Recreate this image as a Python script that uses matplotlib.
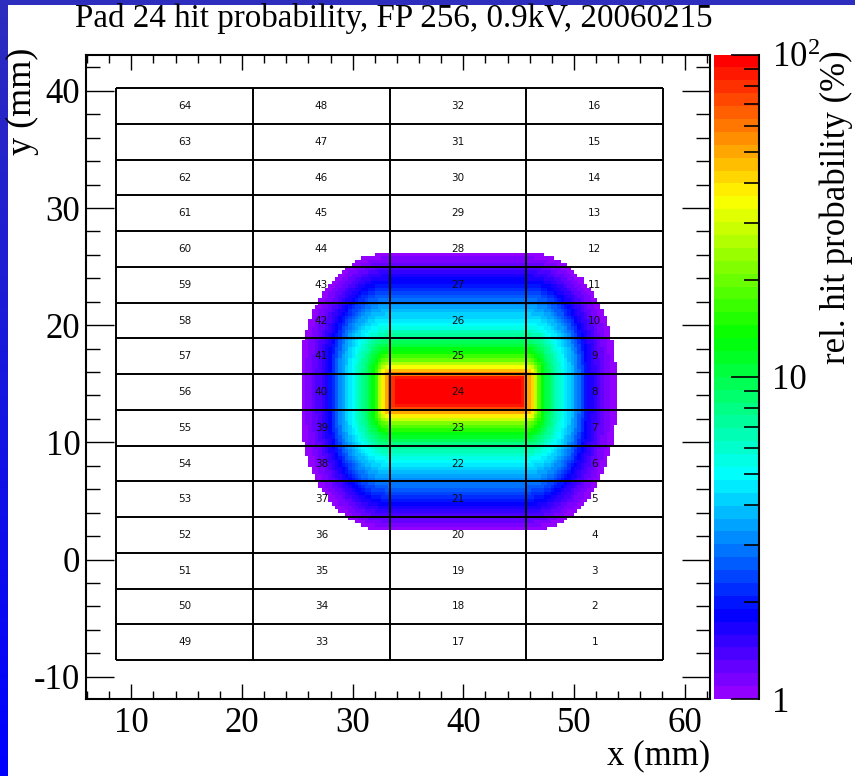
import colorsys
import numpy as np
import matplotlib
matplotlib.use("Agg")
import matplotlib.pyplot as plt
from matplotlib.colors import ListedColormap, LogNorm, LinearSegmentedColormap
from matplotlib.ticker import FixedLocator, MultipleLocator

plt.rcParams['font.family'] = ['Liberation Serif', 'DejaVu Serif']
plt.rcParams['mathtext.fontset'] = 'custom'
plt.rcParams['mathtext.rm'] = 'Liberation Serif'
plt.rcParams['axes.unicode_minus'] = False

# ---------------- data ----------------
title = "Pad 24 hit probability, FP 256, 0.9kV, 20060215"
x_label = "x (mm)"
y_label = "y (mm)"
z_label = "rel. hit probability (%)"

# pad plane geometry (mm)
pad_col_edges = [8.65, 21.0, 33.35, 45.7, 58.05]
pad_row_edges = [-8.58, -5.53, -2.48, 0.57, 3.62, 6.67, 9.72, 12.77, 15.82,
                 18.87, 21.92, 24.97, 28.02, 31.07, 34.12, 37.17, 40.22]
# pad numbers per column (left -> right), listed bottom -> top
pad_numbers = [
    [49, 50, 51, 52, 53, 54, 55, 56, 57, 58, 59, 60, 61, 62, 63, 64],
    [33, 34, 35, 36, 37, 38, 39, 40, 41, 42, 43, 44, 45, 46, 47, 48],
    [17, 18, 19, 20, 21, 22, 23, 24, 25, 26, 27, 28, 29, 30, 31, 32],
    [1, 2, 3, 4, 5, 6, 7, 8, 9, 10, 11, 12, 13, 14, 15, 16],
]
target_pad_col = 2
target_pad_row = 7          # pad 24

# hit-probability contour levels read from the colour map around pad 24:
# level value (%) and how far (mm) each contour lies outside the pad edge
level_pct = [100, 95, 75, 50, 36, 20, 13, 8, 5, 3.2, 1.8, 1.25, 1.0]
level_ext_x = [-1.6, -0.6, -0.15, 0.25, 0.7, 1.05, 1.45, 2.3, 3.4, 4.5, 5.5, 6.8, 8.1]
level_ext_y = [-0.9, -0.45, -0.12, 0.2, 0.55, 1.2, 2.0, 3.0, 4.3, 6.0, 8.0, 9.4, 10.4]

hist_bin_mm = 0.3
hist_x_range = (24.5, 55.1)
hist_y_range = (1.0, 28.0)

z_min, z_max = 1.0, 100.0

# ---------------- build the 2D histogram ----------------
xe = np.arange(hist_x_range[0], hist_x_range[1] + 1e-9, hist_bin_mm)
ye = np.arange(hist_y_range[0], hist_y_range[1] + 1e-9, hist_bin_mm)
xc = 0.5 * (xe[:-1] + xe[1:])
yc = 0.5 * (ye[:-1] + ye[1:])
X, Y = np.meshgrid(xc, yc)

px0, px1 = pad_col_edges[target_pad_col], pad_col_edges[target_pad_col + 1]
py0, py1 = pad_row_edges[target_pad_row], pad_row_edges[target_pad_row + 1]
cx, cy = 0.5 * (px0 + px1), 0.5 * (py0 + py1)
hx, hy = 0.5 * (px1 - px0), 0.5 * (py1 - py0)
EX = np.abs(X - cx) - hx
EY = np.abs(Y - cy) - hy

K = len(level_pct)
idx = np.arange(K, dtype=float)


def inside(t):
    ax_ = np.interp(t, idx, level_ext_x)
    ay_ = np.interp(t, idx, level_ext_y)
    neg = (ax_ <= 0) | (ay_ <= 0)
    axp = np.maximum(ax_, 1e-9)
    ayp = np.maximum(ay_, 1e-9)
    r2 = (np.maximum(EX, 0) / axp) ** 2 + (np.maximum(EY, 0) / ayp) ** 2
    return np.where(neg, (EX <= ax_) & (EY <= ay_), r2 <= 1.0)


lo = np.zeros_like(X)
hi = np.full_like(X, K - 1.0)
for _ in range(40):
    mid = 0.5 * (lo + hi)
    ins = inside(mid)
    hi = np.where(ins, mid, hi)
    lo = np.where(ins, lo, mid)
valid = inside(np.full_like(X, K - 1.0))
logv = np.interp(hi, idx, np.log10(level_pct))
Z = np.ma.masked_where(~valid, 10 ** logv)

# ROOT "pretty" palette: 50 colours, hue 280 -> 0
pal = []
for i in range(50):
    h = 280.0 - (i + 1) * (280.0 / 50)
    pal.append(colorsys.hls_to_rgb(h / 360.0, 0.5, 1.0))
cmap = ListedColormap(pal)

# ---------------- figure ----------------
W, H = 855, 776
fig = plt.figure(figsize=(W / 100, H / 100), dpi=100, facecolor='white')

# blue frame strips (left, top)
axl = fig.add_axes([0, 0, 7 / W, 1])
grad = np.linspace(0, 1, 256).reshape(-1, 1)
bcm = LinearSegmentedColormap.from_list('b', ['#0000ff', '#2d2dbe'])
axl.imshow(grad, aspect='auto', cmap=bcm, origin='lower')
axl.axis('off')
axt = fig.add_axes([0, 1 - 5 / H, 1, 5 / H])
axt.set_facecolor('#2d2dbe')
axt.set_xticks([]); axt.set_yticks([])
for s in axt.spines.values():
    s.set_visible(False)

L, R, T, B = 86, 710, 54.5, 699
ax = fig.add_axes([L / W, 1 - B / H, (R - L) / W, (B - T) / H])
mesh = ax.pcolormesh(xe, ye, Z, cmap=cmap, norm=LogNorm(z_min, z_max), zorder=1)

# pad grid
ax.vlines(pad_col_edges, pad_row_edges[0], pad_row_edges[-1], colors='black',
          linewidth=1.4, zorder=2)
ax.hlines(pad_row_edges, pad_col_edges[0], pad_col_edges[-1], colors='black',
          linewidth=1.4, zorder=2)
for c, col in enumerate(pad_numbers):
    xm = 0.5 * (pad_col_edges[c] + pad_col_edges[c + 1])
    for r, num in enumerate(col):
        ym = 0.5 * (pad_row_edges[r] + pad_row_edges[r + 1])
        ax.text(xm, ym, str(num), ha='center', va='center', fontsize=7.5,
                family='DejaVu Sans', color='#111111', zorder=3)

ax.set_xlim(5.9, 62.3)
ax.set_ylim(-11.9, 43.1)
ax.xaxis.set_major_locator(MultipleLocator(10))
ax.xaxis.set_minor_locator(MultipleLocator(2))
ax.yaxis.set_major_locator(MultipleLocator(10))
ax.yaxis.set_minor_locator(MultipleLocator(2))
ax.tick_params(which='both', direction='in', top=True, right=True, width=1.0)
ax.tick_params(axis='x', which='major', length=11, labelsize=25, pad=6)
ax.tick_params(axis='x', which='minor', length=6)
ax.tick_params(axis='y', which='major', length=20, labelsize=25, pad=4)
ax.tick_params(axis='y', which='minor', length=10)
for s in ax.spines.values():
    s.set_linewidth(1.5)

# colour bar
cax = fig.add_axes([714 / W, 1 - B / H, 45 / W, (B - T) / H])
cb = fig.colorbar(mesh, cax=cax)
cb.outline.set_visible(False)
cb.set_ticks([1, 10, 100], labels=['1', '10', r'$\mathregular{10^{2}}$'])
cb.ax.yaxis.set_minor_locator(FixedLocator([2, 3, 4, 5, 6, 7, 8, 9,
                                            20, 30, 40, 50, 60, 70, 80, 90]))
cb.ax.tick_params(which='both', direction='in', right=True, left=False,
                  labelright=True, width=1.2)
cb.ax.tick_params(which='major', length=20, labelsize=25, pad=9)
cb.ax.tick_params(which='minor', length=11)
cb.ax.plot([1, 1], [0, 1], transform=cb.ax.transAxes, color='black',
           linewidth=1.5, clip_on=False)

# texts
fig.text(394 / W, 1 - 19 / H, title, ha='center', va='center', fontsize=23.8)
fig.text(22 / W, 1 - 48 / H, y_label, rotation=90, ha='center', va='top',
         fontsize=26)
fig.text(710 / W, 1 - 756 / H, x_label, ha='right', va='center', fontsize=25)
fig.text(836 / W, 1 - 50 / H, z_label, rotation=90, ha='center', va='top',
         fontsize=25)

fig.savefig('out.png', dpi=100, facecolor='white')
